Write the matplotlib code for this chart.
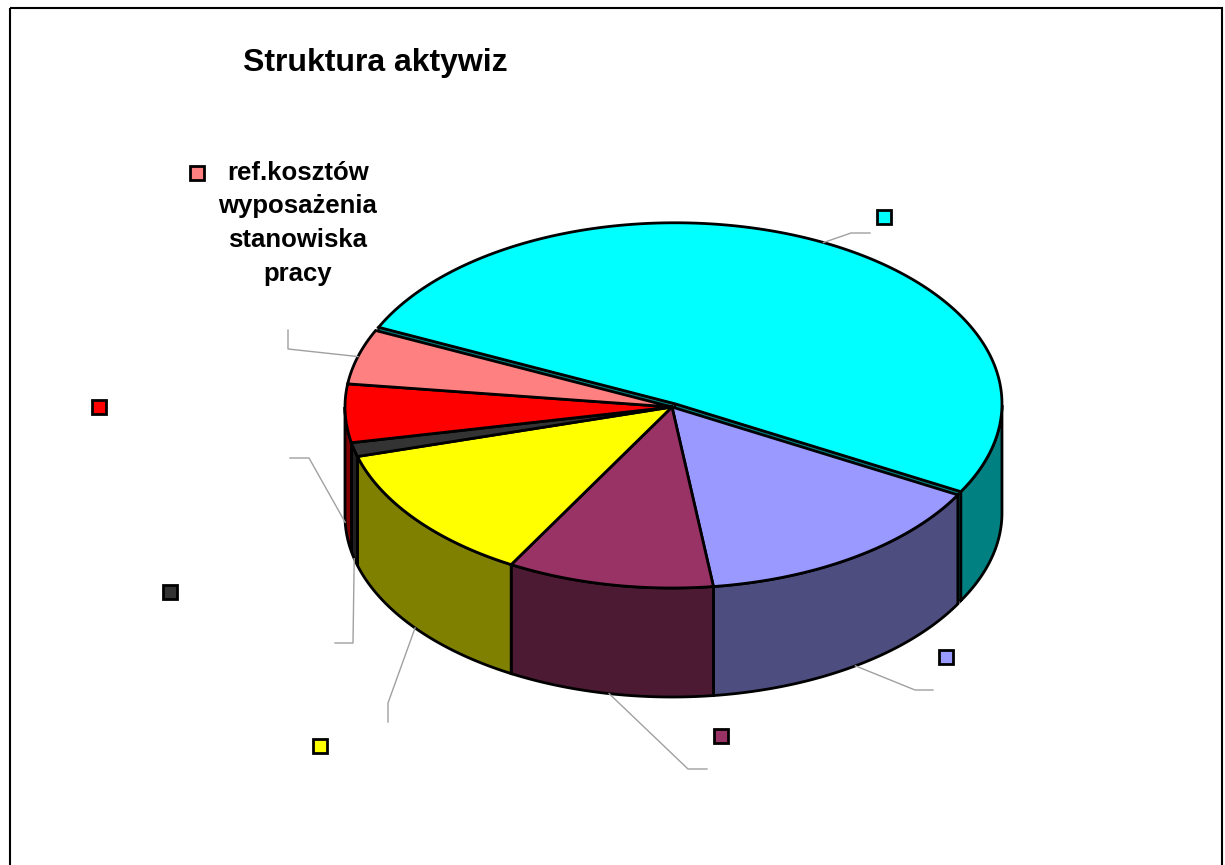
import numpy as np
import matplotlib.pyplot as plt
from matplotlib.patches import Polygon, Rectangle

plt.rcParams['font.family'] = ['Liberation Sans', 'DejaVu Sans']

# data (shares of the pie, clockwise from the top-left)
labels = ['', '', '', '', '', '', 'ref.kosztów\nwyposażenia\nstanowiska\npracy']
values = [51.1, 14.9, 10.2, 12.4, 1.25, 5.2, 4.9]
top_colors = ['#00FFFF', '#9999FF', '#993366', '#FFFF00', '#333333', '#FF0000', '#FF8080']
side_colors = ['#008080', '#4D4D80', '#4D1A33', '#808000', '#1F1F1F', '#800000', '#804040']
explode = [0.02, 0, 0, 0, 0, 0, 0]

# pie geometry in pixels
cx, cy = 672, 407
rx, ry = 327, 181
depth = 109
start = 155

# label layout: elbow point, end point, marker position
elbows = [(851, 233), (915, 690), (688, 769), (388, 703), (353, 643), (309, 458), (288, 349)]
ends = [(870, 233), (933, 690), (707, 769), (388, 722), (335, 643), (290, 458), (288, 330)]
markers = [(884, 217), (946, 657), (721, 736), (320, 746), (170, 592), (99, 407), (197, 173)]

fig = plt.figure(figsize=(12.25, 8.65), dpi=100)
ax = fig.add_axes([0, 0, 1, 1])
ax.set_xlim(0, 1225)
ax.set_ylim(865, 0)
ax.axis('off')


def pt(t, dx=0, dy=0, down=0):
    r = np.radians(t)
    return cx + dx + rx * np.cos(r), cy + dy - ry * np.sin(r) + down


fracs = np.array(values) / sum(values)
bounds = start - np.concatenate([[0], np.cumsum(fracs)]) * 360

slices = []
for i in range(len(values)):
    ta, tb = bounds[i], bounds[i + 1]
    mid = (ta + tb) / 2
    off = explode[i]
    dx = off * rx * np.cos(np.radians(mid))
    dy = -off * ry * np.sin(np.radians(mid))
    slices.append((ta, tb, mid, dx, dy))

# radial faces of exploded slices
for i, (ta, tb, mid, dx, dy) in enumerate(slices):
    if explode[i] == 0:
        continue
    for t in (ta, tb):
        ex, ey = pt(t, dx, dy)
        poly = [(cx + dx, cy + dy), (ex, ey), (ex, ey + depth), (cx + dx, cy + dy + depth)]
        ax.add_patch(Polygon(poly, closed=True, fc=side_colors[i], ec='black', lw=1.5, zorder=1))

# outer walls (front half only)
for i, (ta, tb, mid, dx, dy) in enumerate(slices):
    ts = np.linspace(tb, ta, 400)
    vis = np.sin(np.radians(ts)) <= 0
    if not vis.any():
        continue
    idx = np.where(vis)[0]
    runs = np.split(idx, np.where(np.diff(idx) > 1)[0] + 1)
    for run in runs:
        tt = ts[run]
        xs, ys = pt(tt, dx, dy)
        poly = list(zip(xs, ys)) + list(zip(xs[::-1], ys[::-1] + depth))
        ax.add_patch(Polygon(poly, closed=True, fc=side_colors[i], ec='black', lw=2, zorder=2))

# tops
for i, (ta, tb, mid, dx, dy) in enumerate(slices):
    tt = np.linspace(ta, tb, 300)
    xs, ys = pt(tt, dx, dy)
    poly = [(cx + dx, cy + dy)] + list(zip(xs, ys))
    ax.add_patch(Polygon(poly, closed=True, fc=top_colors[i], ec='black', lw=2, zorder=3))

# leader lines, markers, labels
for i, (ta, tb, mid, dx, dy) in enumerate(slices):
    if np.sin(np.radians(mid)) < 0:
        sx, sy = pt(mid, dx, dy, depth)
    else:
        sx, sy = pt(mid, dx, dy)
    ax.plot([sx, elbows[i][0], ends[i][0]], [sy, elbows[i][1], ends[i][1]],
            color='#A0A0A0', lw=1, zorder=4)
    mx, my = markers[i]
    ax.add_patch(Rectangle((mx - 7, my - 7), 14, 14, fc=top_colors[i], ec='black', lw=2, zorder=5))
    if labels[i]:
        ax.text(298, my - 12, labels[i], ha='center', va='top', fontsize=18.5,
                fontweight='bold', linespacing=1.5, zorder=5)

ax.text(243, 63, 'Struktura aktywiz', ha='left', va='center', fontsize=23,
        fontweight='bold')

ax.add_patch(Rectangle((10, 8), 1212, 870, fill=False, ec='black', lw=1.5, zorder=6))

plt.savefig('out.png', dpi=100)
